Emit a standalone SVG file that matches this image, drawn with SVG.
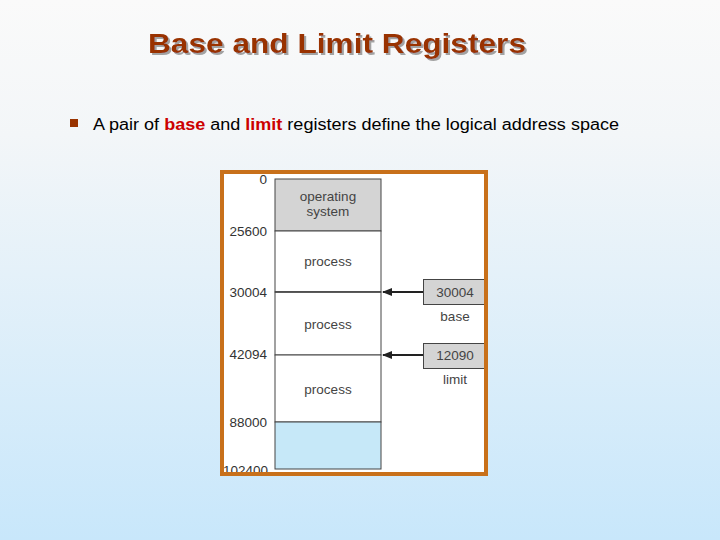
<svg xmlns="http://www.w3.org/2000/svg" width="720" height="540" viewBox="0 0 720 540">
<defs>
<linearGradient id="bg" x1="0" y1="0" x2="0" y2="1">
<stop offset="0" stop-color="#fafafa"/>
<stop offset="0.25" stop-color="#f3f6f8"/>
<stop offset="1" stop-color="#c8e7fb"/>
</linearGradient>
<filter id="shadow" x="-5%" y="-20%" width="110%" height="150%">
<feDropShadow dx="2" dy="2" stdDeviation="0.6" flood-color="#999" flood-opacity="0.9"/>
</filter>
<marker id="ah" viewBox="0 0 10 10" refX="9" refY="5" markerWidth="5" markerHeight="5" orient="auto" markerUnits="strokeWidth">
<path d="M0,1 L10,5 L0,9 z" fill="#222"/>
</marker>
</defs>
<style>
.num{font-family:"Liberation Sans",Arial,sans-serif;font-size:13.5px;fill:#333;text-anchor:end}
.lbl{font-family:"Liberation Sans",Arial,sans-serif;font-size:13.5px;fill:#444;text-anchor:middle}
.cell{stroke:#444;stroke-width:1}
.conn{stroke:#222;stroke-width:2;fill:none;marker-end:url(#ah)}
</style>
<rect width="720" height="540" fill="url(#bg)"/>
<g id="title">
<text x="148" y="53" font-family="Liberation Sans,Arial,sans-serif" font-size="28" font-weight="bold" fill="#993300" textLength="378" lengthAdjust="spacingAndGlyphs" filter="url(#shadow)">Base and Limit Registers</text>
</g>
<g id="bullet">
<rect x="70" y="119" width="8" height="8" fill="#993300"/>
<text x="93" y="130" font-family="Liberation Sans,Arial,sans-serif" font-size="16" fill="#000" textLength="526" lengthAdjust="spacingAndGlyphs">A pair of <tspan fill="#cc0000" font-weight="bold">base</tspan> and <tspan fill="#cc0000" font-weight="bold">limit</tspan> registers define the logical address space</text>
</g>
<g id="frame-bg">
<rect x="222" y="172" width="264" height="302" fill="#fff"/>
</g>
<g id="memory">
<rect x="275" y="179" width="106" height="52" fill="#d4d4d4" class="cell"/>
<rect x="275" y="231" width="106" height="61" fill="#fff" class="cell"/>
<rect x="275" y="292" width="106" height="63" fill="#fff" class="cell"/>
<rect x="275" y="355" width="106" height="67" fill="#fff" class="cell"/>
<rect x="275" y="422" width="106" height="47" fill="#c6e8f8" class="cell"/>
<line x1="275" y1="292" x2="381" y2="292" stroke="#444" stroke-width="1.5"/>
<text class="lbl" x="328" y="201">operating</text>
<text class="lbl" x="328" y="216">system</text>
<text class="lbl" x="328" y="266">process</text>
<text class="lbl" x="328" y="329">process</text>
<text class="lbl" x="328" y="394">process</text>
</g>
<g id="addresses">
<text class="num" x="267" y="184">0</text>
<text class="num" x="267" y="236">25600</text>
<text class="num" x="267" y="297">30004</text>
<text class="num" x="267" y="359">42094</text>
<text class="num" x="267" y="427">88000</text>
<text class="num" x="268" y="475">102400</text>
</g>
<g id="base">
<rect x="423.5" y="279.5" width="64" height="25" fill="#d4d4d4" stroke="#444" stroke-width="1"/>
<text class="lbl" x="455" y="297" fill="#333">30004</text>
<text class="lbl" x="455" y="321">base</text>
</g>
<g id="limit">
<rect x="423.5" y="343.5" width="64" height="25" fill="#d4d4d4" stroke="#444" stroke-width="1"/>
<text class="lbl" x="455" y="360" fill="#333">12090</text>
<text class="lbl" x="455" y="384">limit</text>
</g>
<g id="connectors">
<line class="conn" x1="423" y1="292" x2="383" y2="292"/>
<line class="conn" x1="423" y1="355" x2="383" y2="355"/>
</g>
<g id="frame">
<rect x="222" y="172" width="264" height="302" fill="none" stroke="#c8701a" stroke-width="4"/>
</g>
</svg>
